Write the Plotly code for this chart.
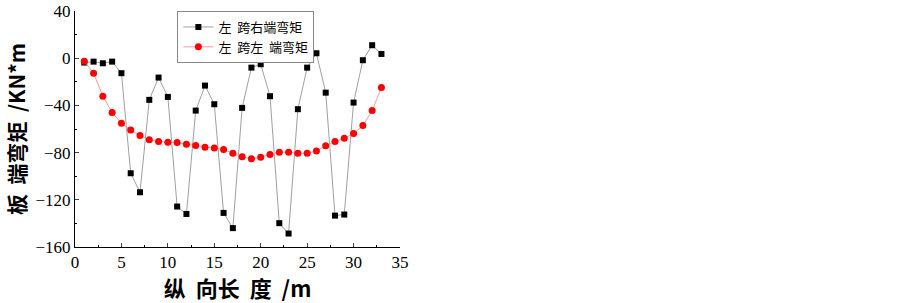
import plotly.graph_objects as go

x_pos = list(range(1, 34))
right_end = [-3.7, -2.9, -4.3, -2.9, -12.7, -97.5, -113.6, -35.3, -16.4, -32.8,
             -125.7, -132.0, -44.4, -23.2, -39.0, -131.1, -144.0, -42.1, -8.0, -5.1,
             -32.2, -139.8, -148.6, -43.2, -8.0, 4.2, -29.2, -133.4, -132.5, -37.6,
             -1.7, 11.0, 3.6]
left_end = [-2.5, -12.7, -32.2, -46.1, -55.1, -60.8, -65.6, -69.2, -70.6, -71.2,
            -71.5, -72.9, -74.0, -75.4, -76.0, -77.4, -80.5, -83.6, -85.3, -83.9,
            -81.7, -79.7, -79.7, -80.5, -80.5, -78.6, -74.3, -70.6, -67.8, -63.9,
            -57.1, -44.4, -24.9]
names = ["左  跨右端弯矩", "左  跨左  端弯矩"]
x_ticks = [0, 5, 10, 15, 20, 25, 30, 35]
y_ticks = [-160, -120, -80, -40, 0, 40]

fig = go.Figure()
fig.add_trace(go.Scatter(x=x_pos, y=right_end, name=names[0], mode="lines+markers",
                         line=dict(color="#a0a0a0", width=1),
                         marker=dict(symbol="square", size=6, color="black")))
fig.add_trace(go.Scatter(x=x_pos, y=left_end, name=names[1], mode="lines+markers",
                         line=dict(color="#ff9a9a", width=1),
                         marker=dict(symbol="circle", size=7, color="red")))

fig.update_layout(
    width=903, height=303,
    margin=dict(l=75, r=503, t=11, b=56),
    plot_bgcolor="white", paper_bgcolor="white",
    font=dict(family="Liberation Serif", size=15, color="black"),
    showlegend=True,
    legend=dict(x=0.315, y=1.0, xanchor="left", yanchor="top",
                bordercolor="#888888", borderwidth=1, bgcolor="white",
                font=dict(family="Noto Sans CJK SC", size=13),
                itemwidth=30, tracegroupgap=0),
    xaxis=dict(range=[0, 35], tickvals=x_ticks, ticks="inside", ticklen=4,
               showline=True, linecolor="black", linewidth=1, showgrid=False,
               zeroline=False, tickfont=dict(family="Liberation Serif", size=17),
               automargin=True,
               minor=dict(dtick=2.5, tick0=0, ticks="inside", ticklen=2, tickcolor="black"),
               title=dict(text="<b>纵  向长  度  /m</b>",
                          font=dict(family="Noto Sans CJK SC", size=22), standoff=4)),
    yaxis=dict(range=[-160, 40], tickvals=y_ticks, ticks="inside", ticklen=4,
               showline=True, linecolor="black", linewidth=1, showgrid=False,
               zeroline=False, tickfont=dict(family="Liberation Serif", size=17),
               automargin=False,
               minor=dict(dtick=20, tick0=0, ticks="inside", ticklen=2, tickcolor="black"),
               title=dict(text="<b>板  端弯矩  /KN*m</b>",
                          font=dict(family="Noto Sans CJK SC", size=21), standoff=4)),
)

fig.write_html("out.html", config={"displayModeBar": False},
               post_script="document.body.style.margin='0';document.body.style.overflow='hidden';")
